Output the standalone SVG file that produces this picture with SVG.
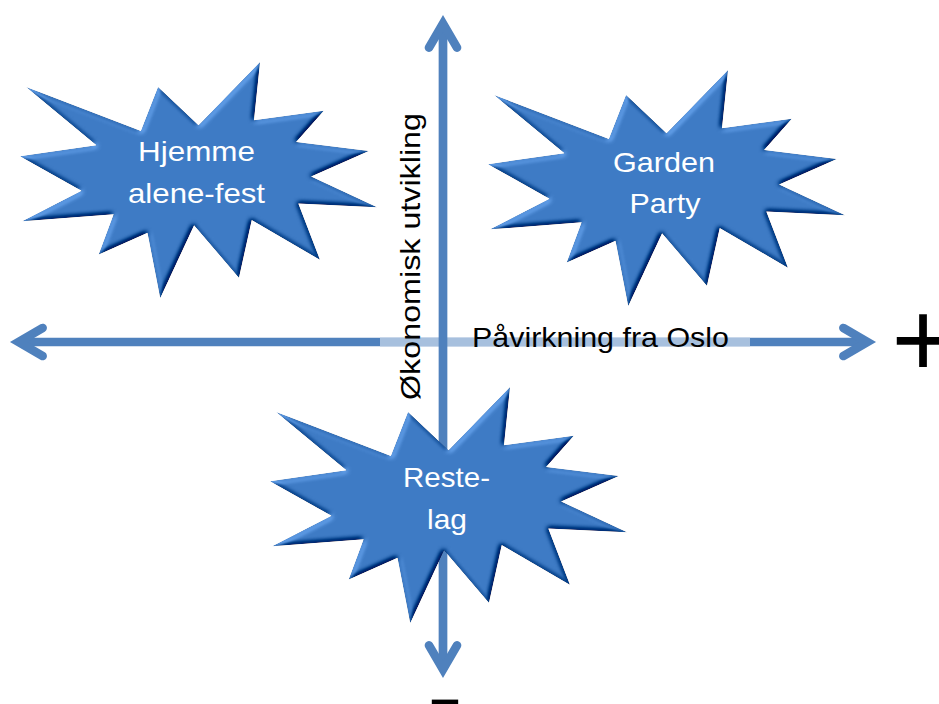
<svg xmlns="http://www.w3.org/2000/svg" xmlns:xlink="http://www.w3.org/1999/xlink" width="939" height="704" viewBox="0 0 939 704">
  <style>
    .axis { stroke: #4f81bd; stroke-width: 8.7; fill: none; }
    .faded { stroke: #a7c0de; stroke-width: 8.7; }
    .star { fill: #3e7bc5; filter: url(#bevel); }
    .lbl { font-family: "Liberation Sans", Arial, sans-serif; font-size: 28px; fill: #ffffff; text-anchor: middle; }
    .axlbl { font-family: "Liberation Sans", Arial, sans-serif; font-size: 28px; fill: #000000; }
    .sign { font-family: "Liberation Sans", Arial, sans-serif; font-size: 108px; fill: #000000; text-anchor: middle; }
  </style>
  <defs>
    <marker id="ah" markerUnits="userSpaceOnUse" orient="auto-start-reverse" viewBox="-40 -25 50 50" markerWidth="50" markerHeight="50" refX="0" refY="0">
      <path d="M-24,-14 L0,0 L-24,14" fill="none" stroke="#4f81bd" stroke-width="8.7" stroke-linecap="round" stroke-linejoin="miter"/>
    </marker>
    <path id="seal" d="M178.5,63.37 L240.02,0 L233.95,58.18 L303.78,48.7 L276.05,79.92 L348.69,88.9 L291,114.45 L357,145.21 L278.28,141.4 L299.9,197.7 L231.72,157.95 L218.94,215.64 L174.07,163.18 L140.24,236 L127.51,170.74 L78.71,192.48 L93.66,152.27 L2.23,159.37 L61.52,128.65 L0,94.13 L76.47,83.22 L6.12,25.07 L120.85,69.05 L138.04,25.07 Z"/>
    <filter id="bevel" x="-5%" y="-5%" width="110%" height="110%" color-interpolation-filters="sRGB">
      <feGaussianBlur in="SourceAlpha" stdDeviation="2.5" result="b"/>
      <feDiffuseLighting in="b" surfaceScale="4" diffuseConstant="1" lighting-color="#ffffff" result="d">
        <feDistantLight azimuth="225" elevation="50"/>
      </feDiffuseLighting>
      <feComposite in="SourceGraphic" in2="d" operator="arithmetic" k1="0" k2="1" k3="0.5" k4="-0.383" result="c"/>
      <feComposite in="c" in2="SourceAlpha" operator="in"/>
    </filter>
  </defs>

  <g id="connectors">
    <line id="axis-x" class="axis" x1="18.6" y1="342" x2="867.4" y2="342" marker-start="url(#ah)" marker-end="url(#ah)"/>
    <line id="axis-x-faded" class="faded" x1="380" y1="342" x2="750" y2="342"/>
    <line id="axis-y" class="axis" x1="443" y1="23.6" x2="443" y2="669.4" marker-start="url(#ah)" marker-end="url(#ah)"/>
  </g>

  <g id="label-y">
    <text class="axlbl" transform="translate(420,400) rotate(-90)" x="0" y="0" textLength="287" lengthAdjust="spacingAndGlyphs">Økonomisk utvikling</text>
  </g>
  <g id="label-x">
    <text class="axlbl" x="472" y="347" textLength="257" lengthAdjust="spacingAndGlyphs">Påvirkning fra Oslo</text>
  </g>

  <g id="node-hjemme">
    <use xlink:href="#seal" href="#seal" class="star" transform="translate(20,62)"/>
    <text class="lbl" x="196.5" y="160.7" textLength="117" lengthAdjust="spacingAndGlyphs">Hjemme</text>
    <text class="lbl" x="196.5" y="202.5" textLength="137" lengthAdjust="spacingAndGlyphs">alene-fest</text>
  </g>

  <g id="node-garden">
    <use xlink:href="#seal" href="#seal" class="star" transform="translate(488,70)"/>
    <text class="lbl" x="664" y="171.7" textLength="102" lengthAdjust="spacingAndGlyphs">Garden</text>
    <text class="lbl" x="665" y="213.3" textLength="71" lengthAdjust="spacingAndGlyphs">Party</text>
  </g>

  <g id="node-restelag">
    <use xlink:href="#seal" href="#seal" class="star" transform="translate(270,387)"/>
    <text class="lbl" x="446.5" y="487.3" textLength="87" lengthAdjust="spacingAndGlyphs">Reste-</text>
    <text class="lbl" x="447" y="529" textLength="40" lengthAdjust="spacingAndGlyphs">lag</text>
  </g>

  <g id="sign-plus">
    <text class="sign" x="923" y="375.6">+</text>
  </g>
  <g id="sign-minus">
    <text class="sign" x="445" y="731.8">-</text>
  </g>
</svg>
